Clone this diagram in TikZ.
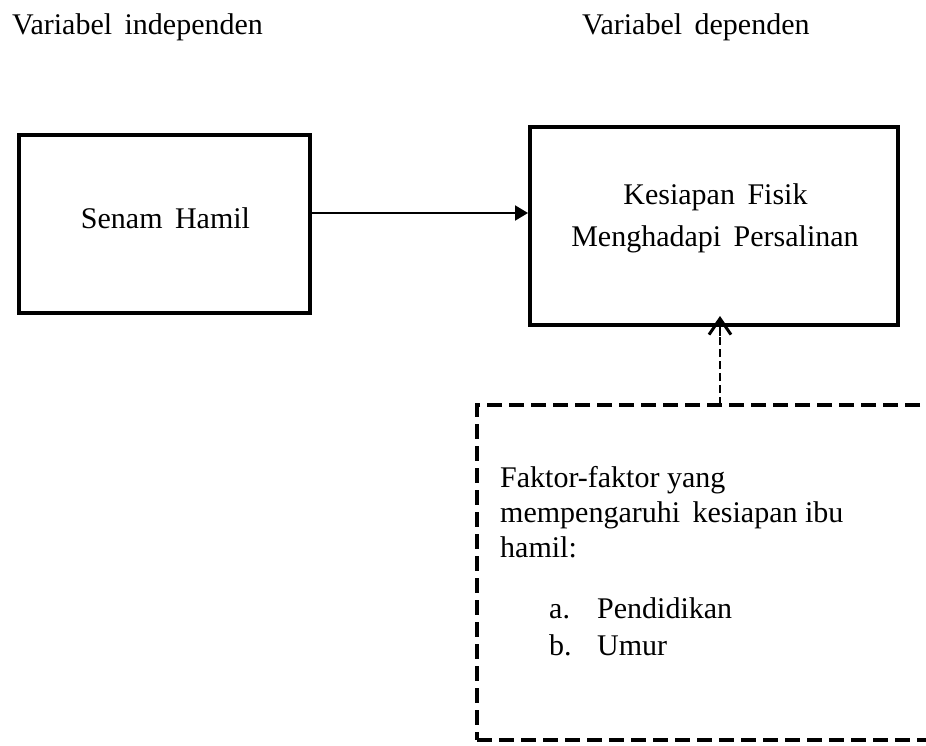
\documentclass[tikz,border=0pt]{standalone}
\usepackage{fontspec}
\setmainfont{Liberation Serif}
\usetikzlibrary{arrows.meta}
\tikzset{
  boxthick/.style={draw, line width=4pt, rectangle, inner sep=0pt},
  dashbox/.style={draw, line width=4.5pt, rectangle, inner sep=0pt, dash pattern=on 15pt off 7pt},
  txt/.style={font=\fontsize{30}{36}\selectfont, inner sep=0pt, anchor=base},
  txtw/.style={font=\fontsize{30}{36}\selectfont, inner sep=0pt, anchor=base west},
  mainarrow/.style={line width=2pt, -{Triangle[length=13pt,width=15pt]}},
  dashline/.style={line width=2.2pt, dash pattern=on 8pt off 4pt},
  barbtip/.style={line width=2.2pt, -{Straight Barb[length=16pt,width=22pt,line width=3pt]}}
}
\begin{document}
\begin{tikzpicture}[x=1pt,y=-1pt]
\useasboundingbox (0,0) rectangle (926,746);
\clip (0,0) rectangle (926,746);
% titles
\node[txtw] (tindep) at (12,35) {Variabel\, independen};
\node[txtw] (tdep) at (582,35) {Variabel\, dependen};
% boxes
\node[boxthick, minimum width=291pt, minimum height=178pt] (senam) at (164.5,224) {};
\node[txt] (senamt) at (165.5,229) {Senam\, Hamil};
\node[boxthick, minimum width=368pt, minimum height=198pt] (kes) at (714,226) {};
\node[txt] (kest1) at (715.5,205) {Kesiapan\, Fisik};
\node[txt] (kest2) at (715,247) {Menghadapi\, Persalinan};
% dashed factor box
\node[dashbox, minimum width=483pt, minimum height=335pt] (fac) at (718.5,572.5) {};
\node[txtw] (f1) at (500,487) {Faktor-faktor yang};
\node[txtw] (f2) at (500,522) {mempengaruhi\, kesiapan ibu};
\node[txtw] (f3) at (500,557) {hamil:};
\node[txtw] (la) at (549,618) {a.};
\node[txtw] (li1) at (597,618) {Pendidikan};
\node[txtw] (lb) at (549,655) {b.};
\node[txtw] (li2) at (597,655) {Umur};
% connectors
\coordinate (p) at (310,213);
\draw[mainarrow] (p) -- (p -| kes.west);
\coordinate (q) at (720,405);
\coordinate (qm) at (720,336);
\coordinate (qt) at (720,316);
\draw[dashline] (q) -- (qm);
\draw[barbtip] (qm) -- (qt);
\end{tikzpicture}
\end{document}
